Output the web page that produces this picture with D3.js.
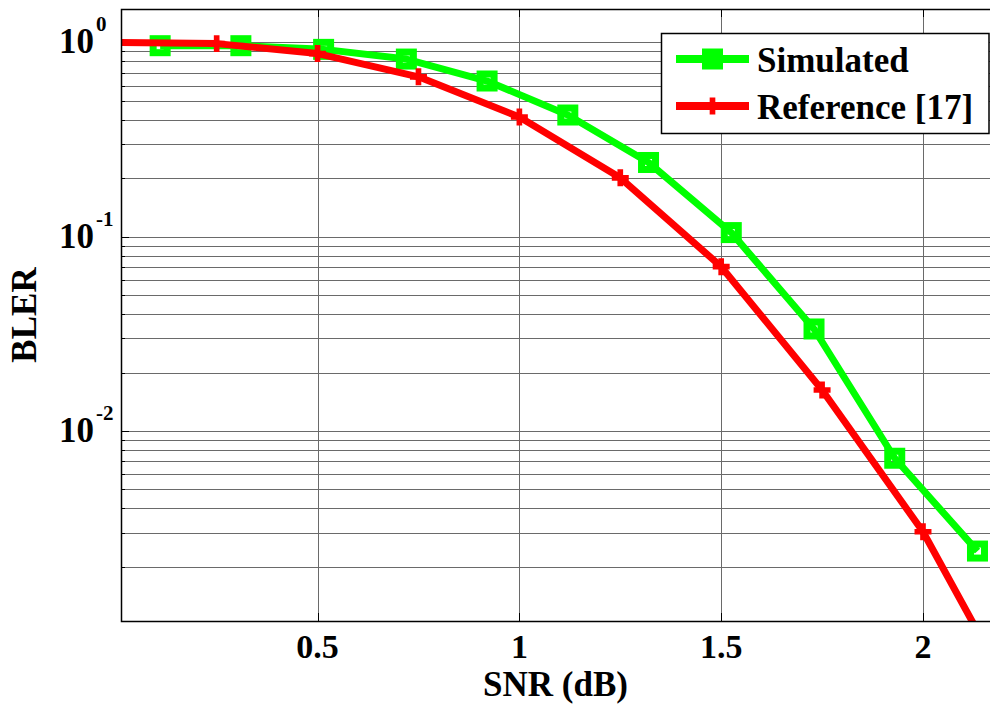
<!DOCTYPE html>
<html>
<head>
<meta charset="utf-8">
<script src="https://cdn.jsdelivr.net/npm/d3@7"></script>
<style>
  html, body { margin: 0; padding: 0; background: #fff; }
  svg { display: block; }
  text { font-family: "Liberation Serif", "Times New Roman", serif; font-weight: bold; fill: #000; }
</style>
</head>
<body>
<svg id="chart" width="990" height="705"></svg>
<script>
// ---- data ----
const simSNR  = [0.11, 0.31, 0.515, 0.72, 0.92, 1.12, 1.32, 1.525, 1.73, 1.93, 2.135];
const simBLER = [0.962, 0.962, 0.921, 0.821, 0.633, 0.423, 0.241, 0.105, 0.0335, 0.00724, 0.00241];
const refSNR  = [0, 0.25, 0.5, 0.75, 1.0, 1.25, 1.5, 1.75, 2.0, 2.25];
const refBLER = [1.0, 0.986, 0.876, 0.665, 0.413, 0.201, 0.0701, 0.01626, 0.00303, 0.000343];
const xTickValues = [0.5, 1, 1.5, 2];
const xTickLabels = ["0.5", "1", "1.5", "2"];
const yTickValues = [1, 0.1, 0.01];
const yTickExponents = ["0", "-1", "-2"];
const seriesNames = ["Simulated", "Reference [17]"];
const seriesColors = ["#00ff00", "#ff0000"];

// ---- layout ----
const L = 121, T = 9, R = 990, B = 621;
const svg = d3.select("#chart");
const x = d3.scaleLinear().domain([0.013, 2.166]).range([L, R]);
const y = d3.scaleLog().domain([0.001052, 1.486]).range([B, T]);

svg.append("defs").append("clipPath").attr("id", "clip")
  .append("rect").attr("x", L).attr("y", T).attr("width", R - L).attr("height", B - T);

// grid
const minor = [];
for (let d = -3; d <= 0; d++) for (let k = 1; k <= 9; k++) {
  const v = k * Math.pow(10, d);
  if (v >= y.domain()[0] && v <= y.domain()[1]) minor.push(v);
}
const grid = svg.append("g");
grid.selectAll(".hg").data(minor).enter().append("line")
  .attr("x1", L).attr("x2", R)
  .attr("y1", d => Math.round(y(d)) + 0.5).attr("y2", d => Math.round(y(d)) + 0.5)
  .attr("stroke", "#6a6a6a").attr("stroke-width", 1);
grid.selectAll(".vg").data(xTickValues).enter().append("line")
  .attr("y1", T).attr("y2", B)
  .attr("x1", d => Math.round(x(d)) + 0.5).attr("x2", d => Math.round(x(d)) + 0.5)
  .attr("stroke", "#6a6a6a").attr("stroke-width", 1);

// ticks
const tk = svg.append("g").attr("stroke", "#000").attr("stroke-width", 1);
tk.selectAll(".ymaj").data(yTickValues).enter().append("line")
  .attr("x1", L).attr("x2", L + 8)
  .attr("y1", d => Math.round(y(d)) + 0.5).attr("y2", d => Math.round(y(d)) + 0.5);
tk.selectAll(".ymin").data(minor).enter().append("line")
  .attr("x1", L).attr("x2", L + 4)
  .attr("y1", d => Math.round(y(d)) + 0.5).attr("y2", d => Math.round(y(d)) + 0.5);
tk.selectAll(".xb").data(xTickValues).enter().append("line")
  .attr("y1", B).attr("y2", B - 8)
  .attr("x1", d => Math.round(x(d)) + 0.5).attr("x2", d => Math.round(x(d)) + 0.5);
tk.selectAll(".xt").data(xTickValues).enter().append("line")
  .attr("y1", T).attr("y2", T + 8)
  .attr("x1", d => Math.round(x(d)) + 0.5).attr("x2", d => Math.round(x(d)) + 0.5);

// data
const plot = svg.append("g").attr("clip-path", "url(#clip)");
const line = d3.line().x(d => x(d[0])).y(d => y(d[1]));
const simData = simSNR.map((s, i) => [s, simBLER[i]]);
const refData = refSNR.map((s, i) => [s, refBLER[i]]);

plot.append("path").datum(simData).attr("d", line)
  .attr("fill", "none").attr("stroke", seriesColors[0]).attr("stroke-width", 7)
  .attr("stroke-linejoin", "round");
plot.selectAll(".sq").data(simData).enter().append("rect")
  .attr("x", d => x(d[0]) - 7).attr("y", d => y(d[1]) - 7)
  .attr("width", 14).attr("height", 14)
  .attr("fill", "none").attr("stroke", seriesColors[0]).attr("stroke-width", 7);

plot.append("path").datum(refData).attr("d", line)
  .attr("fill", "none").attr("stroke", seriesColors[1]).attr("stroke-width", 7)
  .attr("stroke-linejoin", "round");
const plus = d3.symbol().type(d3.symbolCross).size(160);
plot.selectAll(".pl").data(refData).enter().append("path")
  .attr("d", plus)
  .attr("transform", d => `translate(${x(d[0])},${y(d[1])})`)
  .attr("fill", seriesColors[1]);

// axes box (left, top, bottom)
svg.append("path")
  .attr("d", `M${R},${T + 0.5}H${L + 0.5}V${B + 0.5}H${R}`)
  .attr("fill", "none").attr("stroke", "#000").attr("stroke-width", 1.5);

// x tick labels
svg.selectAll(".xl").data(xTickValues).enter().append("text")
  .attr("x", d => x(d)).attr("y", 658)
  .attr("text-anchor", "middle").attr("font-size", 34)
  .text((d, i) => xTickLabels[i]);

// y tick labels
yTickValues.forEach((v, i) => {
  const t = svg.append("text").attr("x", 59).attr("y", y(v) + 11).attr("font-size", 35);
  t.append("tspan").text("10");
  t.append("tspan").attr("font-size", 21).attr("dy", -22).attr("dx", 2).text(yTickExponents[i]);
});

// axis titles
svg.append("text").attr("x", (L + R) / 2).attr("y", 696)
  .attr("text-anchor", "middle").attr("font-size", 35).text("SNR (dB)");
svg.append("text").attr("transform", `translate(36,${(T + B) / 2}) rotate(-90)`)
  .attr("text-anchor", "middle").attr("font-size", 35).text("BLER");

// legend
const lg = svg.append("g");
lg.append("rect").attr("x", 661.5).attr("y", 33.5).attr("width", 327.5).attr("height", 100)
  .attr("fill", "#fff").attr("stroke", "#000").attr("stroke-width", 1.5);
const legY = [59, 106];
seriesNames.forEach((name, i) => {
  lg.append("line").attr("x1", 676).attr("x2", 749).attr("y1", legY[i]).attr("y2", legY[i])
    .attr("stroke", seriesColors[i]).attr("stroke-width", 8);
  if (i === 0) {
    lg.append("rect").attr("x", 712.5 - 7).attr("y", legY[i] - 7).attr("width", 14).attr("height", 14)
      .attr("fill", "none").attr("stroke", seriesColors[i]).attr("stroke-width", 7);
  } else {
    lg.append("path").attr("d", plus).attr("transform", `translate(712.5,${legY[i]})`)
      .attr("fill", seriesColors[i]);
  }
  lg.append("text").attr("x", 757).attr("y", legY[i] + 13).attr("font-size", 35).text(name);
});
</script>
</body>
</html>
